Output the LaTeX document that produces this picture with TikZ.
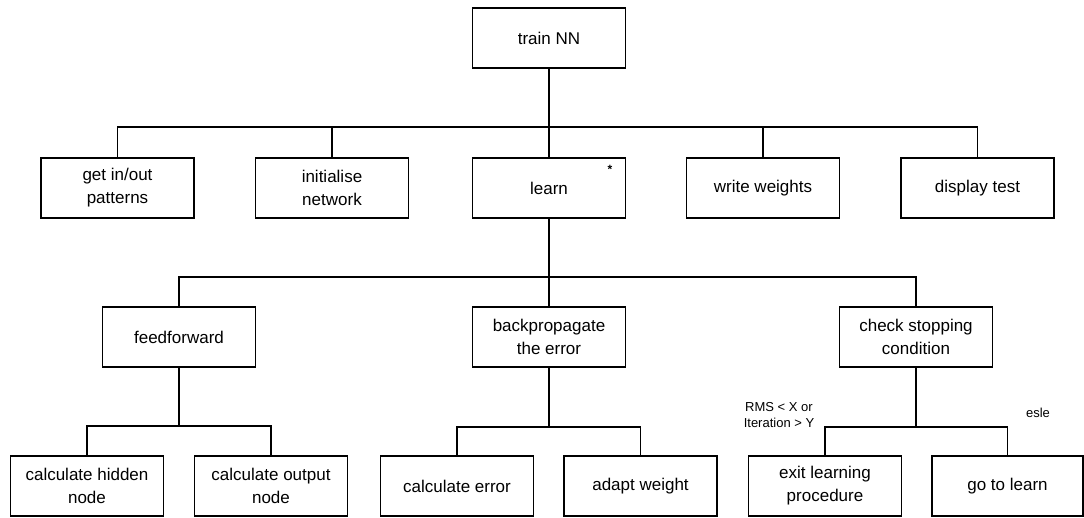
\documentclass[tikz,border=0pt]{standalone}
\usepackage{fontspec}
\setmainfont{Liberation Sans}
\begin{document}
\begin{tikzpicture}[x=1pt,y=-1pt,
  box/.style={draw,line width=1.2pt,minimum width=153pt,minimum height=60pt,
    inner sep=0pt,align=center,font=\fontsize{17}{23}\selectfont},
  link/.style={line width=1.8pt},
  note/.style={align=center,font=\fontsize{13}{16}\selectfont}]
\useasboundingbox (0,0) rectangle (1084,517);

% top
\node[box] (train) at (549,38) {train NN};

% first level
\node[box] (get)     at (117.5,188) {get in/out\\patterns};
\node[box] (init)    at (332,188)   {initialise\\network};
\node[box] (learn)   at (549,188)   {learn};
\node[box] (write)   at (763,188)   {write weights};
\node[box] (display) at (977.5,188) {display test};
\node[font=\bfseries\fontsize{12}{12}\selectfont] (star) at (610,169) {*};

% second level
\node[box] (ff)    at (179,337) {feedforward};
\node[box] (bp)    at (549,337) {backpropagate\\the error};
\node[box] (check) at (916,337) {check stopping\\condition};

% third level
\node[box] (hidden) at (87,486)    {calculate hidden\\node};
\node[box] (output) at (271,486)   {calculate output\\node};
\node[box] (err)    at (457,486)   {calculate error};
\node[box] (adapt)  at (640.5,486) {adapt weight};
\node[box] (exit)   at (825,486)   {exit learning\\procedure};
\node[box,minimum width=151pt] (go) at (1007.5,486) {go to learn};

\node[note] (cond) at (779,415) {RMS < X or\\Iteration > Y};
\node[note] (else) at (1038,413) {esle};

% buses
\coordinate (b1) at (549,127);
\coordinate (b2) at (549,277);
\coordinate (b3) at (179,426);
\coordinate (b4) at (549,427);
\coordinate (b5) at (916,427);

\draw[link] (train.south) -- (b1);
\foreach \n in {get,init,learn,write,display} \draw[link] (\n.north) |- (b1);

\draw[link] (learn.south) -- (b2);
\foreach \n in {ff,bp,check} \draw[link] (\n.north) |- (b2);

\draw[link] (ff.south) -- (b3);
\foreach \n in {hidden,output} \draw[link] (\n.north) |- (b3);

\draw[link] (bp.south) -- (b4);
\foreach \n in {err,adapt} \draw[link] (\n.north) |- (b4);

\draw[link] (check.south) -- (b5);
\foreach \n in {exit,go} \draw[link] (\n.north) |- (b5);
\end{tikzpicture}
\end{document}
